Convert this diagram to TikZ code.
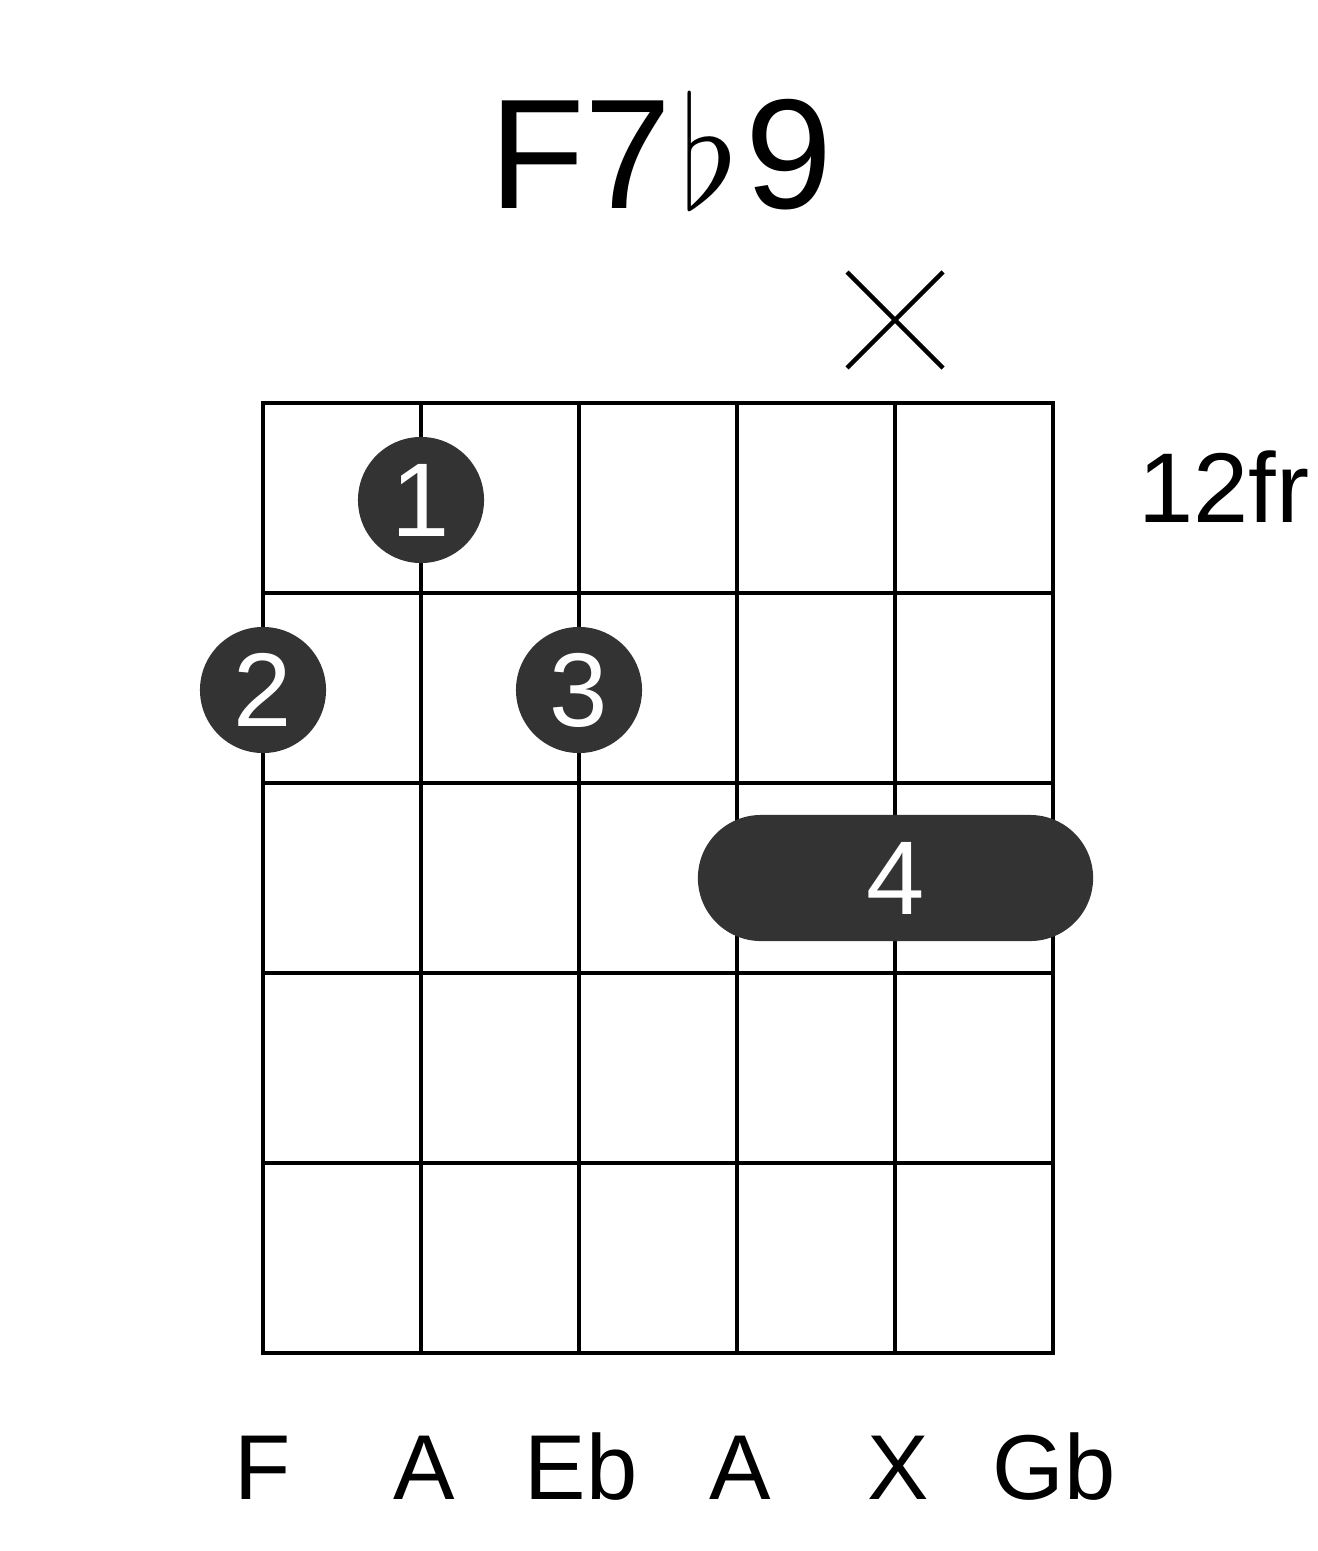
\RequirePackage{fix-cm}
\documentclass[tikz,border=0pt]{standalone}
\usepackage{fontspec}
\setmainfont{Liberation Sans}
\usepackage{tikz}
\usetikzlibrary{shapes.misc, positioning}
\definecolor{dotgray}{HTML}{333333}

\begin{document}
\begin{tikzpicture}[x=0.01cm, y=-0.01cm, line width=1.3pt,
    finger/.style={circle, fill=dotgray, text=white, minimum size=1.26cm, inner sep=0pt, font=\fontsize{29.8}{30}\selectfont},
    barre/.style={rounded rectangle, fill=dotgray, text=white, minimum width=3.95cm, minimum height=1.26cm, inner sep=0pt, font=\fontsize{29.8}{30}\selectfont},
    notename/.style={anchor=base, inner sep=0pt, font=\fontsize{26.2}{27}\selectfont}]
			\useasboundingbox (0,0) rectangle (1317,1551);
			
			% Title
			\node (title) [anchor=base, inner sep=0pt, font=\fontsize{44.5}{45}\selectfont] at (661,208) {F7\kern2pt$\flat$\kern2pt9};
			
			% Grid
			\draw (263,403) rectangle (1053,1353);
			\foreach \x in {421,579,737,895}
			\draw (\x,403) -- (\x,1353);
			\foreach \y in {593,783,973,1163}
			\draw (263,\y) -- (1053,\y);
			
			% Fret number
			\node (fret) [anchor=base, inner sep=0pt, font=\fontsize{28.2}{29}\selectfont] at (1224,522) {12fr};
			
			% Muted string
			\coordinate (mute) at (895,320);
			\draw (mute) +(-48,-48) -- +(48,48) (mute) +(-48,48) -- +(48,-48);
			
			% Fingers
			\node[finger] (f1) at (421,500) {1};
			\node[finger] (f2) at (263,690) {2};
			\node[finger] (f3) at (579,690) {3};
			\node[barre] (f4) at (895.5,878) {4};
			
			% Notes
			\node[notename] (n1) at (263,1499) {F};
			\node[notename] (n2) at (424,1499) {A};
			\node[notename] (n3) at (581,1499) {Eb};
			\node[notename] (n4) at (740,1499) {A};
			\node[notename] (n5) at (898,1499) {X};
			\node[notename] (n6) at (1054,1499) {Gb};
		\end{tikzpicture}
\end{document}
